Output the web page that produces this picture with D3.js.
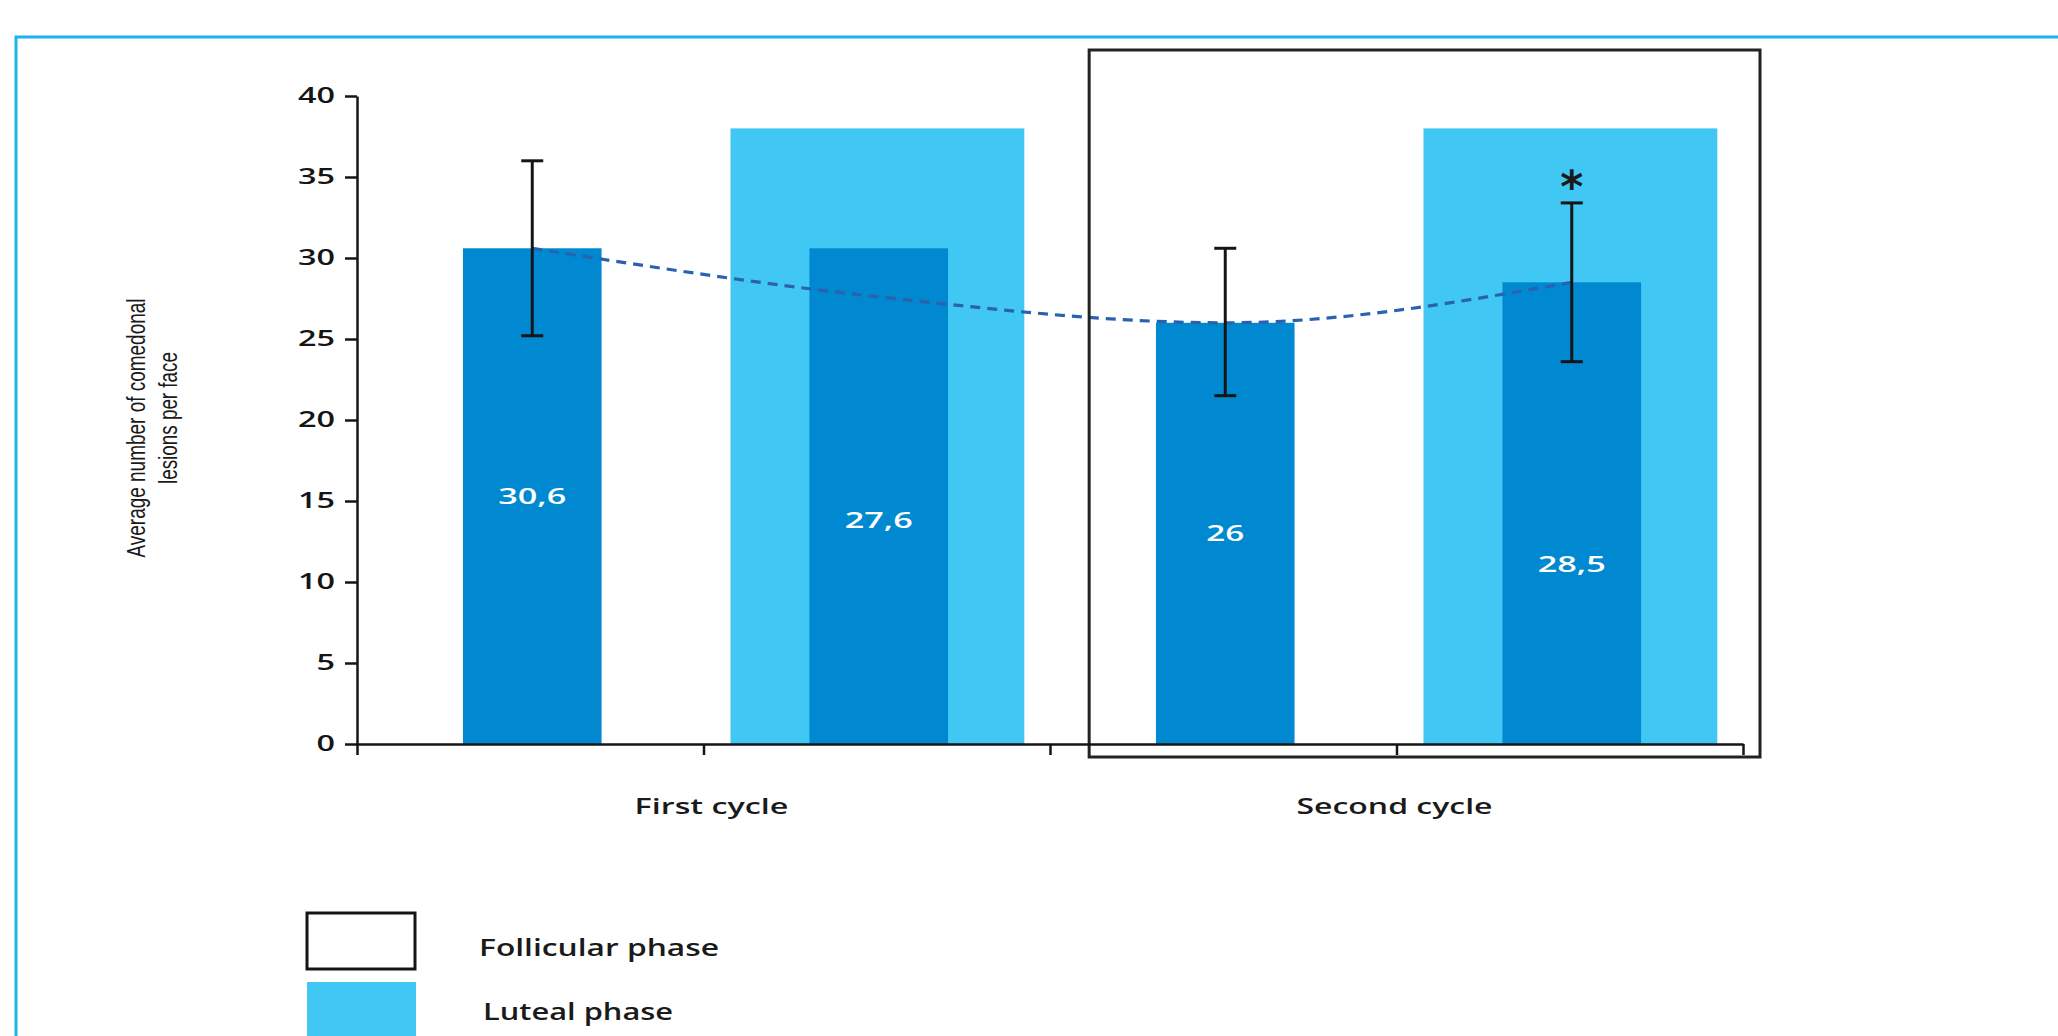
<!DOCTYPE html>
<html>
<head>
<meta charset="utf-8">
<script src="https://cdn.jsdelivr.net/npm/d3@7"></script>
<style>
  html, body { margin: 0; padding: 0; background: #fff; }
  svg { display: block; }
  text { font-family: "Open Sans", "DejaVu Sans", sans-serif; fill: #1a1a1a; }
</style>
</head>
<body>
<div id="chart"></div>
<script>
// data
const bars = ["C1 follicular", "C1 luteal", "C2 follicular", "C2 luteal"];
const phases = ["Follicular", "Luteal", "Follicular", "Luteal"];
const barValues = [30.6, 30.6, 26, 28.5];      // drawn heights
const labelValues = [30.6, 27.6, 26, 28.5];    // printed / trend values
const valueLabels = ["30,6", "27,6", "26", "28,5"];
const labelLevels = [15.3, 13.8, 13, 11.1];    // where the white numbers sit
const errLow = [25.2, null, 21.5, 23.6];
const errHigh = [36, null, 30.6, 33.4];
const significant = [false, false, false, true];
const lutealBackdrop = 38;
const cycles = ["First cycle", "Second cycle"];
const yTicks = [0, 5, 10, 15, 20, 25, 30, 35, 40];
const legendItems = ["Follicular phase", "Luteal phase"];

const width = 2058, height = 1036;
const dark = "#0089d0", light = "#41c7f4", cyan = "#1bb4ea", ink = "#151515";

const svg = d3.select("#chart").append("svg")
    .attr("width", width)
    .attr("height", height);

// outer frame (top + left only)
svg.append("path")
    .attr("d", `M16,${height} V37 H${width}`)
    .attr("fill", "none")
    .attr("stroke", cyan)
    .attr("stroke-width", 3);

const x = d3.scaleBand().domain(bars).range([357, 1743]);
const xEdge = d3.scaleLinear().domain([0, bars.length]).range(x.range());
const y = d3.scaleLinear().domain([0, 40]).range([744, 96]);
const bw = x.bandwidth();
const cx = i => x(bars[i]) + bw / 2 + 2;

// light luteal backdrops
svg.append("g").selectAll("rect")
    .data(bars.filter((d, i) => phases[i] === "Luteal"))
    .join("rect")
    .attr("x", d => x(d) + bw * 0.075 + 1)
    .attr("width", bw * 0.848)
    .attr("y", y(lutealBackdrop))
    .attr("height", y(0) - y(lutealBackdrop))
    .attr("fill", light);

// dark bars
svg.append("g").selectAll("rect")
    .data(barValues)
    .join("rect")
    .attr("x", (d, i) => cx(i) - bw * 0.2)
    .attr("width", bw * 0.4)
    .attr("y", d => y(d))
    .attr("height", d => y(0) - y(d))
    .attr("fill", dark);

// dashed trend line
const line = d3.line()
    .x((d, i) => cx(i))
    .y(d => y(d))
    .curve(d3.curveMonotoneX);

svg.append("path")
    .datum(labelValues)
    .attr("d", line)
    .attr("fill", "none")
    .attr("stroke", "#2a62b0")
    .attr("stroke-width", 3.2)
    .attr("stroke-dasharray", "10,7");

// error bars
const eb = svg.append("g").attr("stroke", ink).attr("stroke-width", 3);
bars.forEach((b, i) => {
    if (errLow[i] == null) return;
    const xc = cx(i);
    eb.append("line").attr("x1", xc).attr("x2", xc).attr("y1", y(errLow[i])).attr("y2", y(errHigh[i]));
    eb.append("line").attr("x1", xc - 11).attr("x2", xc + 11).attr("y1", y(errLow[i])).attr("y2", y(errLow[i]));
    eb.append("line").attr("x1", xc - 11).attr("x2", xc + 11).attr("y1", y(errHigh[i])).attr("y2", y(errHigh[i]));
});

// asterisk
svg.append("g").selectAll("text")
    .data(bars.filter((d, i) => significant[i]))
    .join("text")
    .attr("x", d => cx(bars.indexOf(d)))
    .attr("y", d => y(errHigh[bars.indexOf(d)]) - 28)
    .attr("dy", "0.62em")
    .attr("text-anchor", "middle")
    .style("font-family", "DejaVu Sans")
    .style("font-weight", "bold")
    .style("font-size", "44px")
    .text("*");

// value labels inside the bars
const txtWidth = s => s.replace(/[^0-9]/g, "").length * 19 + (s.includes(",") ? 11 : 0);
svg.append("g").selectAll("text")
    .data(valueLabels)
    .join("text")
    .attr("x", (d, i) => cx(i))
    .attr("y", (d, i) => y(labelLevels[i]))
    .attr("dy", "0.36em")
    .attr("text-anchor", "middle")
    .attr("textLength", d => txtWidth(d))
    .attr("lengthAdjust", "spacingAndGlyphs")
    .style("fill", "#fff")
    .style("font-weight", 600)
    .style("font-size", "22px")
    .text(d => d);

// second-cycle frame
svg.append("rect")
    .attr("x", x(bars[2]) + bw * 0.113)
    .attr("y", 50)
    .attr("width", xEdge(4) + 17 - (x(bars[2]) + bw * 0.113))
    .attr("height", 707)
    .attr("fill", "none")
    .attr("stroke", "#222")
    .attr("stroke-width", 3);

// y axis
const yAxis = svg.append("g")
    .attr("transform", `translate(${x.range()[0]},0)`)
    .call(d3.axisLeft(y).tickValues(yTicks).tickSize(12).tickPadding(10).tickSizeOuter(0));
yAxis.selectAll("path, line").attr("stroke", ink).attr("stroke-width", 2.5);
yAxis.selectAll("text")
    .attr("textLength", d => String(d).length * 18.5)
    .attr("lengthAdjust", "spacingAndGlyphs")
    .style("font-family", "Open Sans")
    .style("font-weight", 600)
    .style("font-size", "21px")
    .style("fill", ink);

// x axis (ticks at band edges)
const xAxis = svg.append("g")
    .attr("transform", `translate(0,${y(0)})`)
    .call(d3.axisBottom(xEdge).tickValues(d3.range(bars.length + 1)).tickFormat("").tickSize(11).tickSizeOuter(0));
xAxis.selectAll("path, line").attr("stroke", ink).attr("stroke-width", 2.5);

// cycle labels
const cycleWidths = [154, 196];
svg.append("g").selectAll("text")
    .data(cycles)
    .join("text")
    .attr("x", (d, i) => xEdge(i * 2 + 1) + (i === 0 ? 8 : -2))
    .attr("y", 806)
    .attr("dy", "0.36em")
    .attr("text-anchor", "middle")
    .attr("textLength", (d, i) => cycleWidths[i])
    .attr("lengthAdjust", "spacingAndGlyphs")
    .style("font-weight", 600)
    .style("font-size", "22px")
    .text(d => d);

// y axis title
const titleLines = ["Average number of comedonal", "lesions per face"];
const titleLens = [259, 132];
const titlePos = [[136, 428], [168, 418]];
svg.append("g").selectAll("text")
    .data(titleLines)
    .join("text")
    .attr("transform", (d, i) => `translate(${titlePos[i][0]},${titlePos[i][1]}) rotate(-90)`)
    .attr("dy", "0.36em")
    .attr("text-anchor", "middle")
    .attr("textLength", (d, i) => titleLens[i])
    .attr("lengthAdjust", "spacingAndGlyphs")
    .style("font-family", "Liberation Sans")
    .style("font-size", "25px")
    .text(d => d);

// legend
const legend = svg.append("g");
legend.append("rect")
    .attr("x", 307).attr("y", 913).attr("width", 108).attr("height", 56)
    .attr("fill", "#fff").attr("stroke", ink).attr("stroke-width", 3);
legend.append("rect")
    .attr("x", 307).attr("y", 982).attr("width", 109).attr("height", 60)
    .attr("fill", light);
const legendWidths = [240, 190];
const legendX = [479, 483];
const legendY = [948, 1012];
legend.selectAll("text")
    .data(legendItems)
    .join("text")
    .attr("x", (d, i) => legendX[i])
    .attr("y", (d, i) => legendY[i])
    .attr("dy", "0.36em")
    .attr("textLength", (d, i) => legendWidths[i])
    .attr("lengthAdjust", "spacingAndGlyphs")
    .style("font-weight", 600)
    .style("font-size", "23px")
    .text(d => d);
</script>
</body>
</html>
